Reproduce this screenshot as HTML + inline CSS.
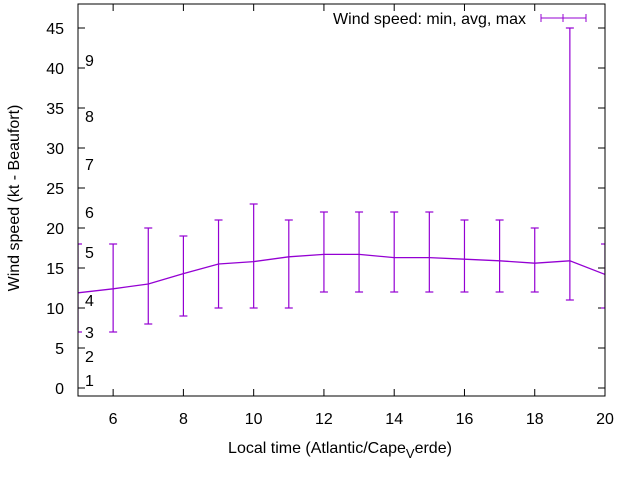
<!DOCTYPE html>
<html><head><meta charset="utf-8"><style>
body{margin:0;background:#fff}
svg{display:block;font-family:"Liberation Sans",sans-serif;font-size:16px}
</style></head><body>
<svg id="chart" width="640" height="480" viewBox="0 0 640 480"></svg>
<script>
const hours=[5,6,7,8,9,10,11,12,13,14,15,16,17,18,19,20];
const avgSpeed=[11.9,12.4,13,14.3,15.5,15.8,16.4,16.7,16.7,16.3,16.3,16.1,15.9,15.6,15.9,14.2];
const minSpeed=[7,7,8,9,10,10,10,12,12,12,12,12,12,12,11,10];
const maxSpeed=[18,18,20,19,21,23,21,22,22,22,22,21,21,20,45,18];
const yTicks=[0,5,10,15,20,25,30,35,40,45];
const xTicks=[6,8,10,12,14,16,18,20];
const beaufortLabels=["1","2","3","4","5","6","7","8","9"];
const beaufortY=[1,4,7,11,17,22,28,34,41];
const L=78,R=605,T=4,B=396,X0=5,X1=20,Y0=-1,Y1=48;
const sx=v=>L+(v-X0)*(R-L)/(X1-X0);
const sy=v=>B-(v-Y0)*(B-T)/(Y1-Y0);
const svg=document.getElementById('chart');
const NS="http://www.w3.org/2000/svg";
function mk(t,a,p){const e=document.createElementNS(NS,t);for(const k in a)e.setAttribute(k,a[k]);(p||svg).appendChild(e);return e;}
const C="#9400d3";
yTicks.forEach(v=>{
 const g=mk('g',{});
 
 
 mk('line',{x1:L,x2:L+7,y1:sy(v),y2:sy(v),stroke:'#000'},g);
 mk('line',{x1:R,x2:R-7,y1:sy(v),y2:sy(v),stroke:'#000'},g);
 const t=mk('text',{x:L-14,y:sy(v)+6,'text-anchor':'end'},g);t.textContent=v;
});
xTicks.forEach(v=>{
 const g=mk('g',{});
 
 
 mk('line',{x1:sx(v),x2:sx(v),y1:B,y2:B-7,stroke:'#000'},g);
 mk('line',{x1:sx(v),x2:sx(v),y1:T,y2:T+7,stroke:'#000'},g);
 const t=mk('text',{x:sx(v),y:B+28,'text-anchor':'middle'},g);t.textContent=v;
});
beaufortLabels.forEach((s,i)=>{
 const t=mk('text',{x:85,y:sy(beaufortY[i])+6});
 
 
 t.textContent=s;
});
const defs=mk('defs',{});const cp=mk('clipPath',{id:'pc'},defs);mk('rect',{x:L,y:T,width:R-L,height:B-T},cp);
const plot=mk('g',{'clip-path':'url(#pc)'});


hours.forEach((h,i)=>{
 const g=mk('g',{stroke:C,'stroke-width':1.2},plot);
 
 
 const x=sx(h);
 mk('line',{x1:x,x2:x,y1:sy(minSpeed[i]),y2:sy(maxSpeed[i])},g);
 mk('line',{x1:x-4,x2:x+4,y1:sy(minSpeed[i]),y2:sy(minSpeed[i])},g);
 mk('line',{x1:x-4,x2:x+4,y1:sy(maxSpeed[i]),y2:sy(maxSpeed[i])},g);
});
const line=mk('polyline',{points:hours.map((h,i)=>sx(h)+','+sy(avgSpeed[i])).join(' '),fill:'none',stroke:C,'stroke-width':1.3},plot);


const fr=mk('rect',{x:L,y:T,width:R-L,height:B-T,fill:'none',stroke:'#000'});


const lg=mk('g',{});


const lt=mk('text',{x:526,y:24,'text-anchor':'end'},lg);lt.textContent='Wind speed: min, avg, max';
mk('line',{x1:541,x2:586,y1:18,y2:18,stroke:C},lg);
[541,563,586].forEach(x=>mk('line',{x1:x,x2:x,y1:14,y2:22,stroke:C},lg));
const xt=mk('text',{x:340,y:453,'text-anchor':'middle'});


xt.innerHTML='Local time (Atlantic/Cape<tspan dy="5" font-size="13">V</tspan><tspan dy="-5">erde)</tspan>';
const yt=mk('text',{x:0,y:0,'text-anchor':'middle',transform:'translate(19,198) rotate(-90)'});


yt.textContent='Wind speed (kt - Beaufort)';
</script>
</body></html>
